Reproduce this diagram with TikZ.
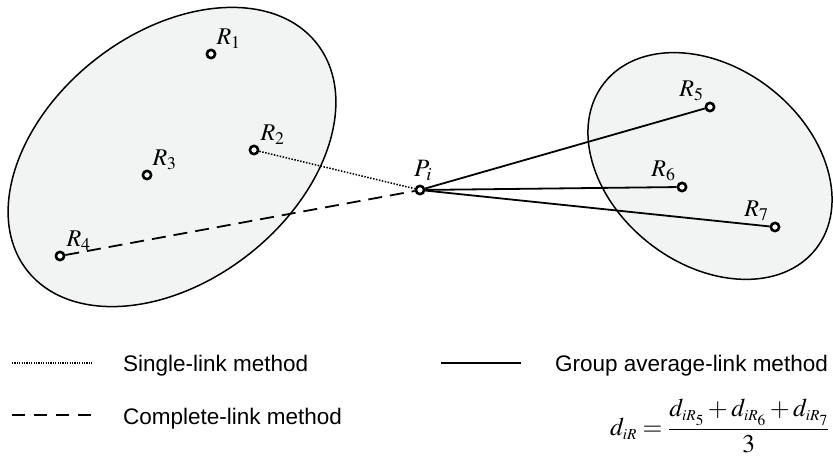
\documentclass[tikz,border=0pt]{standalone}
\usepackage{amsmath}
\usepackage{mathptmx}
\usepackage{fontspec}
\setmainfont{Liberation Sans}
\usetikzlibrary{positioning}
\definecolor{clusterfill}{RGB}{242,243,243}

\begin{document}
\begin{tikzpicture}[
      x=1pt, y=1pt, line join=round,
      point/.style={circle, draw, fill=white, line width=2.6pt,
        minimum size=8.3pt, inner sep=0pt},
      ptlabel/.style={inner sep=0.5pt, font=\fontsize{24}{27}\selectfont},
      cluster/.style={fill=clusterfill, draw=black, line width=1.5pt},
      link/.style={line width=1.8pt},
      legendtext/.style={anchor=base west, inner sep=0pt,
        font=\fontsize{22.5}{26}\selectfont}
    ]

    \useasboundingbox (0,0) rectangle (833,458);

    % ------------------ Clusters ------------------
    \draw[cluster, rotate around={38:(172,301)}]
    (172,301) ellipse (184pt and 124pt);
    \draw[cluster, rotate around={-38:(710,292)}]
    (710,292) ellipse (134.5pt and 98.3pt);

    % ------------------ Points ------------------
    \node[point] (R1) at (211,404) {};
    \node[point] (R2) at (254,308) {};
    \node[point] (R3) at (147,283) {};
    \node[point] (R4) at (60,202) {};
    \node[point] (Pi) at (420,268) {};
    \node[point] (R5) at (710,351) {};
    \node[point] (R6) at (682,271) {};
    \node[point] (R7) at (775,231) {};

    \node[ptlabel, above right=1pt and 1pt of R1] (R1l) {$R_1$};
    \node[ptlabel, above right=1pt and 2pt of R2] (R2l) {$R_2$};
    \node[ptlabel, above right=1pt and 1pt of R3] (R3l) {$R_3$};
    \node[ptlabel, above right=1pt and 2pt of R4] (R4l) {$R_4$};
    \node[ptlabel, above=3pt of Pi, xshift=3pt,
      font=\fontsize{25}{28}\selectfont] (Pil) {$P_i$};
    \node[ptlabel, above left=2pt and 2pt of R5] (R5l) {$R_5$};
    \node[ptlabel, above left=2pt and 2pt of R6] (R6l) {$R_6$};
    \node[ptlabel, above left=2pt and 2pt of R7] (R7l) {$R_7$};

    % ------------------ Links ------------------
    \draw[link, line width=1.5pt, dash pattern=on 1.5pt off 1.5pt] (R2) -- (Pi);
    \draw[link, dash pattern=on 14pt off 8pt] (R4) -- (Pi);
    \draw[link] (Pi) -- (R5);
    \draw[link] (Pi) -- (R6);
    \draw[link] (Pi) -- (R7);

    % ------------------ Legend ------------------
    \coordinate (dotA) at (12,95);
    \coordinate (dotB) at (92,95);
    \coordinate (dashA) at (12,43);
    \coordinate (dashB) at (92,43);
    \coordinate (solA) at (441,95);
    \coordinate (solB) at (521,95);

    \draw[line width=1.3pt, dash pattern=on 1.2pt off 1.2pt] (dotA) -- (dotB);
    \draw[link, dash pattern=on 13pt off 9pt] (dashA) -- (dashB);
    \draw[link] (solA) -- (solB);

    \node[legendtext] (singleTxt) at (123,86) {Single-link method};
    \node[legendtext] (completeTxt) at (123,34) {Complete-link method};
    \node[legendtext] (groupTxt) at (555,86) {Group average-link method};

    \node[anchor=west, inner sep=0pt, font=\fontsize{25.5}{29}\selectfont]
    (formula) at (610,32)
    {$d_{\scriptscriptstyle iR} = \dfrac{d_{\scriptscriptstyle iR_5}
      +d_{\scriptscriptstyle iR_6}+d_{\scriptscriptstyle iR_7}}{3}$};

  \end{tikzpicture}
\end{document}
